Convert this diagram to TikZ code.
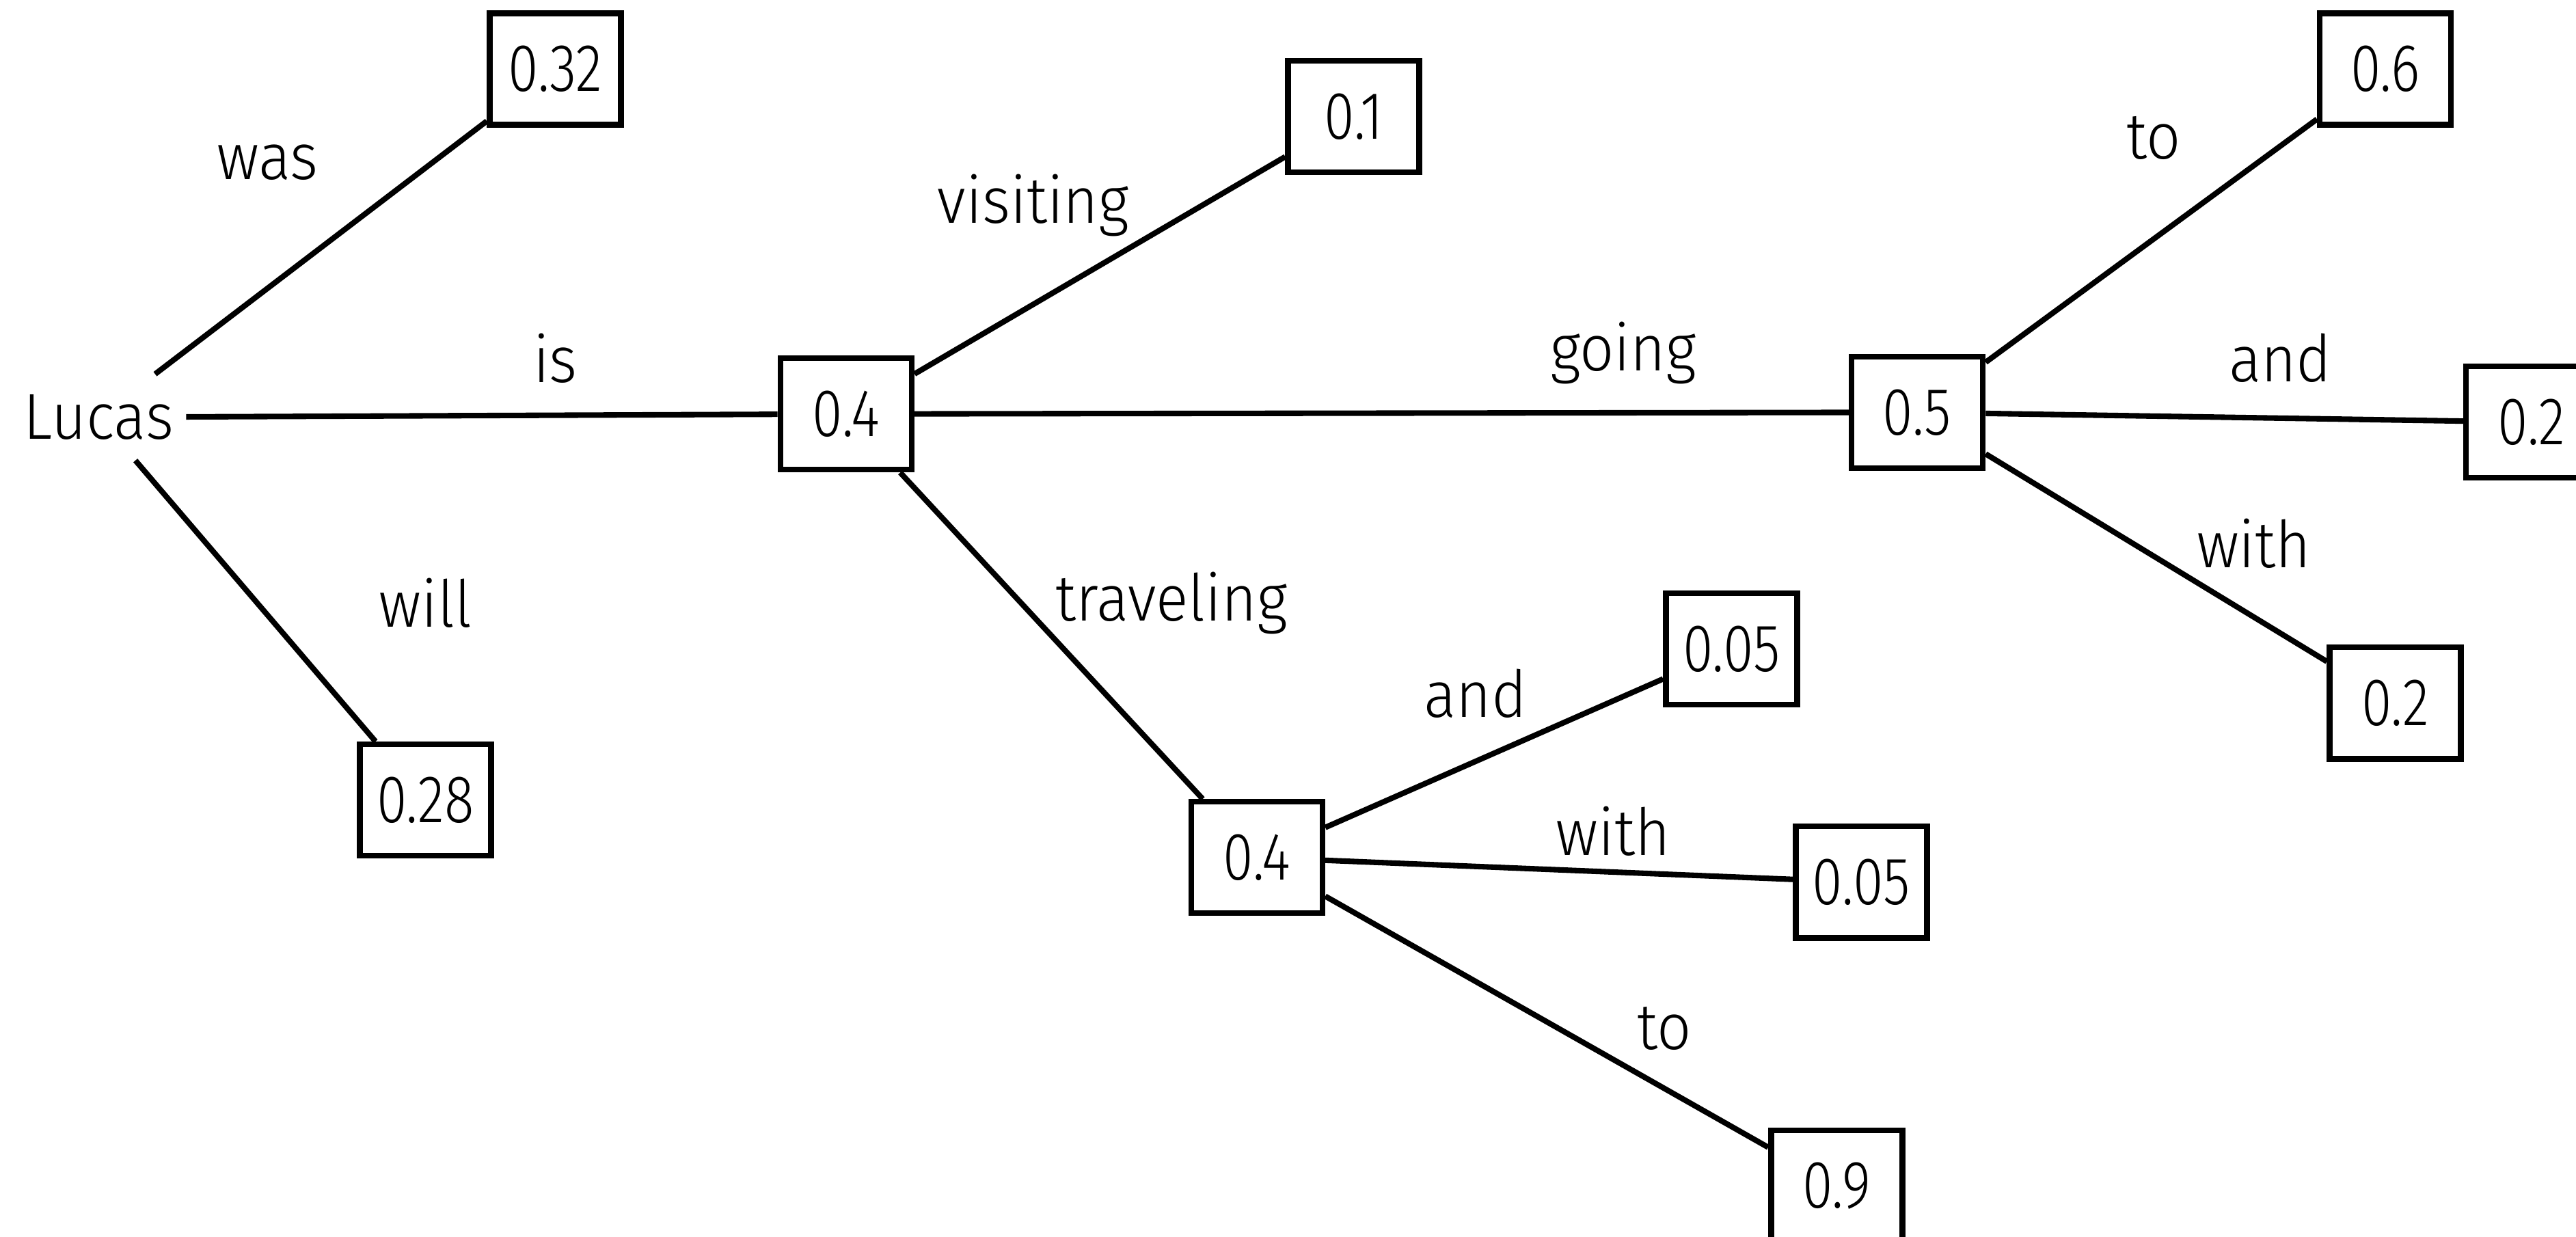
\documentclass[tikz,border=0pt]{standalone}
\usepackage{fontspec}
\setmainfont{Fira Sans Light}[FakeStretch=0.93]
\newfontfamily\probfont{Fira Sans Light}[FakeStretch=0.82]
\begin{document}
\begin{tikzpicture}[x=0.024037cm,y=-0.024037cm,
  prob/.style={draw,line width=2.4pt,minimum width=1.92cm,minimum height=1.63cm,inner sep=0pt,font=\probfont\fontsize{28}{32}\selectfont},
  root/.style={minimum width=2.55cm,minimum height=1.25cm,inner sep=0pt,font=\fontsize{27}{32}\selectfont},
  word/.style={inner sep=0pt,font=\fontsize{27}{32}\selectfont},
  link/.style={line width=2.3pt}]
\useasboundingbox (0,0) rectangle (1568,753);
% nodes
\node[root] (lucas) at (60,254) {Lucas};
\node[prob] (p32) at (338,42) {0.32};
\node[prob] (p4a) at (515,252) {0.4};
\node[prob] (p28) at (259,487) {0.28};
\node[prob] (p1) at (824,71) {0.1};
\node[prob] (p5) at (1167,251) {0.5};
\node[prob] (p4b) at (765,522) {0.4};
\node[prob] (p6) at (1452,42) {0.6};
\node[prob] (p2a) at (1541,257) {0.2};
\node[prob] (p2b) at (1458,428) {0.2};
\node[prob] (p05a) at (1054,395) {0.05};
\node[prob] (p05b) at (1133,537) {0.05};
\node[prob] (p9) at (1118,722) {0.9};
% connectors
\draw[link] (lucas) -- (p32);
\draw[link] (lucas) -- (p4a);
\draw[link] (lucas) -- (p28);
\draw[link] (p4a) -- (p1);
\draw[link] (p4a) -- (p5);
\draw[link] (p4a) -- (p4b);
\draw[link] (p5) -- (p6);
\draw[link] (p5) -- (p2a);
\draw[link] (p5) -- (p2b);
\draw[link] (p4b) -- (p05a);
\draw[link] (p4b) -- (p05b);
\draw[link] (p4b) -- (p9);
% word labels
\node[word] (wwas) at (163,99) {was};
\node[word] (wis) at (338,218) {is};
\node[word] (wwill) at (259,367) {will};
\node[word] (wvisiting) at (629,125) {visiting};
\node[word] (wgoing) at (988,215) {going};
\node[word] (wtraveling) at (713,367) {traveling};
\node[word] (wto1) at (1311,84) {to};
\node[word] (wand1) at (1388,218) {and};
\node[word] (wwith1) at (1372,331) {with};
\node[word] (wand2) at (898,422) {and};
\node[word] (wwith2) at (982,506) {with};
\node[word] (wto2) at (1013,626) {to};
\end{tikzpicture}
\end{document}
